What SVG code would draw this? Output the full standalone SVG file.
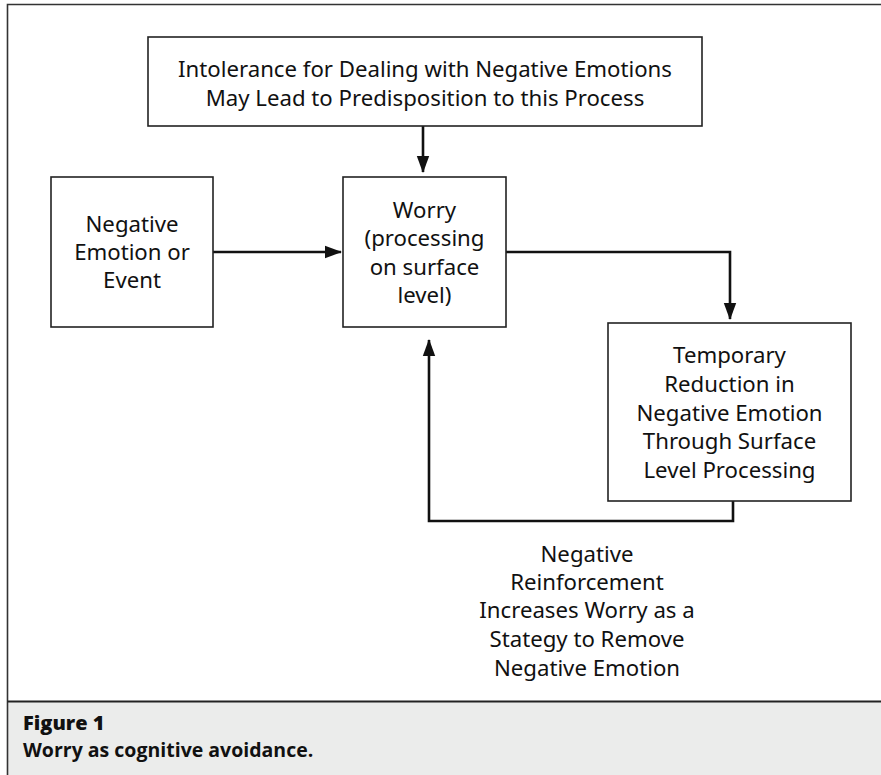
<svg xmlns="http://www.w3.org/2000/svg" width="881" height="775" viewBox="0 0 881 775">
<defs>
<style>
.box{fill:#fff;stroke:#222;stroke-width:1.6}
.t{font-family:"Noto Sans","Open Sans",sans-serif;font-size:22.2px;fill:#111;text-anchor:middle}
.c{fill:none;stroke:#111;stroke-width:2.6}
.cap{font-family:"Open Sans","Noto Sans",sans-serif;fill:#111}
</style>
<marker id="ah" markerUnits="userSpaceOnUse" markerWidth="17" markerHeight="14" viewBox="0 0 17 14" refX="16" refY="7" orient="auto">
<path d="M0,0.8 L17,7 L0,13.2 Z" fill="#111"/>
</marker>
</defs>
<rect x="0" y="0" width="881" height="775" fill="#fff"/>
<rect x="8" y="702" width="873" height="73" fill="#ebeceb"/>
<path d="M881,4.5 H7.5 V775" fill="none" stroke="#333" stroke-width="1.6"/>
<line x1="7.5" y1="701.5" x2="881" y2="701.5" stroke="#222" stroke-width="1.8"/>

<g id="connectors">
<line class="c" x1="423" y1="126" x2="423" y2="172" marker-end="url(#ah)"/>
<line class="c" x1="213" y1="252" x2="341" y2="252" marker-end="url(#ah)"/>
<polyline class="c" points="506,252 730,252 730,319" marker-end="url(#ah)"/>
<polyline class="c" points="733,501 733,521 429,521 429,340" marker-end="url(#ah)"/>
</g>

<g id="n-top">
<rect class="box" x="148" y="37" width="554" height="89"/>
<text class="t" x="425" y="77">Intolerance for Dealing with Negative Emotions</text>
<text class="t" x="425" y="106">May Lead to Predisposition to this Process</text>
</g>

<g id="n-negative">
<rect class="box" x="51" y="177" width="162" height="150"/>
<text class="t" x="132" y="232">Negative</text>
<text class="t" x="132" y="260">Emotion or</text>
<text class="t" x="132" y="288">Event</text>
</g>

<g id="n-worry">
<rect class="box" x="343" y="177" width="163" height="150"/>
<text class="t" x="424.5" y="218">Worry</text>
<text class="t" x="424.5" y="246">(processing</text>
<text class="t" x="424.5" y="275">on surface</text>
<text class="t" x="424.5" y="303">level)</text>
</g>

<g id="n-temp">
<rect class="box" x="608" y="323" width="243" height="178"/>
<text class="t" x="729.5" y="363">Temporary</text>
<text class="t" x="729.5" y="392">Reduction in</text>
<text class="t" x="729.5" y="421">Negative Emotion</text>
<text class="t" x="729.5" y="449">Through Surface</text>
<text class="t" x="729.5" y="478">Level Processing</text>
</g>

<g id="label">
<text class="t" x="587" y="562">Negative</text>
<text class="t" x="587" y="590">Reinforcement</text>
<text class="t" x="587" y="618">Increases Worry as a</text>
<text class="t" x="587" y="647">Stategy to Remove</text>
<text class="t" x="587" y="676">Negative Emotion</text>
</g>

<g id="caption">
<text class="cap" x="23" y="730" font-size="20" font-weight="800">Figure 1</text>
<text class="cap" x="23" y="757" font-size="19.5" font-weight="700">Worry as cognitive avoidance.</text>
</g>
</svg>
